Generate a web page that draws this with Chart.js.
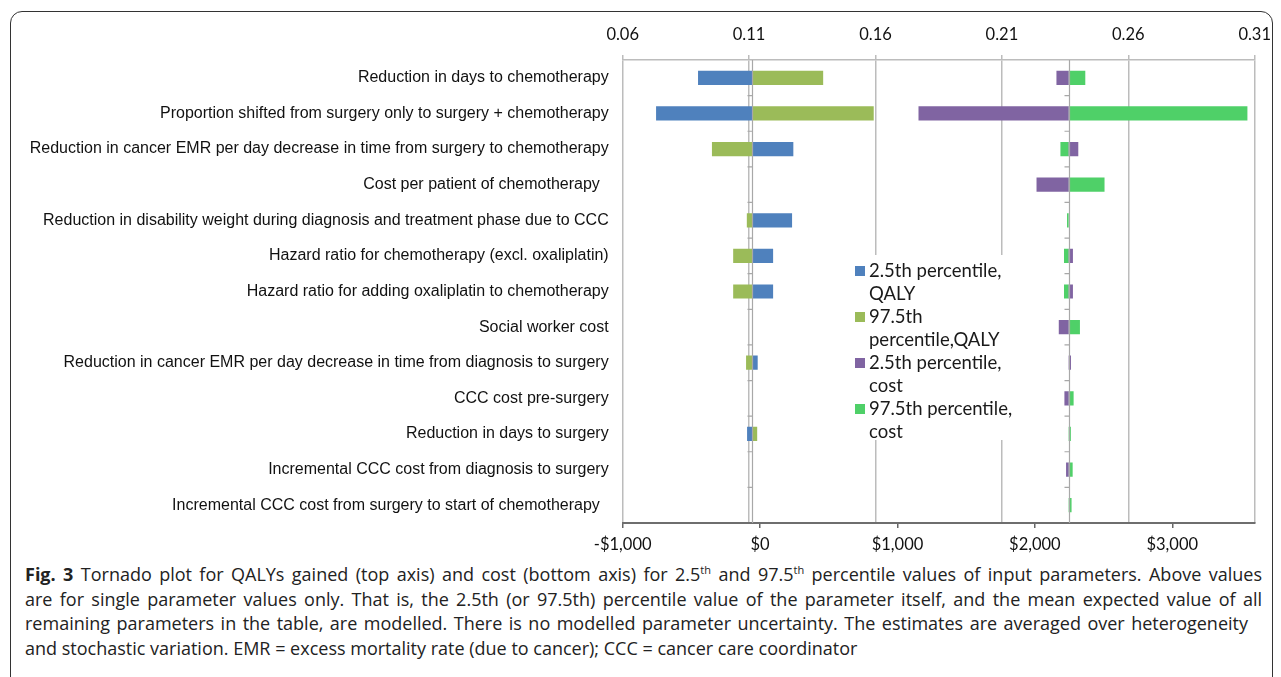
<!DOCTYPE html>
<html><head><meta charset="utf-8">
<script src="https://cdn.jsdelivr.net/npm/chart.js@4.4.1/dist/chart.umd.min.js"></script>
<style>
html,body{margin:0;padding:0;background:#fff;width:1281px;height:677px;overflow:hidden;}
#frame{position:absolute;left:10px;top:11px;width:1261px;height:720px;border:1.5px solid #333;border-radius:12px;}
#wrap{position:absolute;left:0;top:0;width:1281px;height:560px;}
#cap{position:absolute;left:25px;top:562px;font-family:'Open Sans',sans-serif;font-size:18px;line-height:24.5px;color:#222;}
#cap div{white-space:nowrap;text-align:justify;text-align-last:justify;}
#cap div.last{text-align:left;text-align-last:left;}
#cap sup{font-size:11px;line-height:0;vertical-align:7px;}
</style></head>
<body>
<div id="frame"></div>
<div id="wrap"><canvas id="c"></canvas></div>
<div id="cap">
<div style="width:1237px"><b>Fig. 3</b> Tornado plot for QALYs gained (top axis) and cost (bottom axis) for 2.5<sup>th</sup> and 97.5<sup>th</sup> percentile values of input parameters. Above values</div>
<div style="width:1237px">are for single parameter values only. That is, the 2.5th (or 97.5th) percentile value of the parameter itself, and the mean expected value of all</div>
<div style="width:1223px">remaining parameters in the table, are modelled. There is no modelled parameter uncertainty. The estimates are averaged over heterogeneity</div>
<div class="last">and stochastic variation. EMR = excess mortality rate (due to cancer); CCC = cancer care coordinator</div>
</div>
<script>
const categories = [
  "Reduction in days to chemotherapy",
  "Proportion shifted from surgery only to surgery + chemotherapy",
  "Reduction in cancer EMR per day decrease in time from surgery to chemotherapy",
  "Cost per patient of chemotherapy  ",
  "Reduction in disability weight during diagnosis and treatment phase due to CCC",
  "Hazard ratio for chemotherapy (excl. oxaliplatin)",
  "Hazard ratio for adding oxaliplatin to chemotherapy",
  "Social worker cost",
  "Reduction in cancer EMR per day decrease in time from diagnosis to surgery",
  "CCC cost pre-surgery",
  "Reduction in days to surgery",
  "Incremental CCC cost from diagnosis to surgery",
  "Incremental CCC cost from surgery to start of chemotherapy  "
];
const qalyBase = 0.1112;
const qalyP025 = [0.0898, 0.0732, 0.1275, 0.1112, 0.1270, 0.1195, 0.1195, 0.1112, 0.1134, 0.1112, 0.1092, 0.1112, 0.1112];
const qalyP975 = [0.1393, 0.1593, 0.0953, 0.1112, 0.1091, 0.1037, 0.1037, 0.1112, 0.1088, 0.1112, 0.1132, 0.1112, 0.1112];
const costBase = 2246;
const costP025 = [2157, 1153, 2316, 2012, 2246, 2277, 2277, 2174, 2263, 2215, 2246, 2227, 2246];
const costP975 = [2367, 3547, 2186, 2507, 2234, 2212, 2212, 2328, 2246, 2282, 2262, 2275, 2267];
const qalyTicks = [0.06, 0.11, 0.16, 0.21, 0.26, 0.31];
const costTicks = [-1000, 0, 1000, 2000, 3000];
const seriesNames = ["2.5th percentile, QALY", "97.5th percentile,QALY", "2.5th percentile, cost", "97.5th percentile, cost"];
const legendLines = [["2.5th percentile,", "QALY"], ["97.5th", "percentile,QALY"], ["2.5th percentile,", "cost"], ["97.5th percentile,", "cost"]];
const colors = ["#4f81bd", "#9bbb59", "#8064a2", "#4fd068"];

function floating(base, vals) { return vals.map(v => [base, v]); }

const baseLines = {
  id: 'baseLines',
  afterDatasetsDraw(chart) {
    const {ctx, chartArea: a, scales} = chart;
    const n = categories.length;
    const step = (a.bottom - a.top) / n;
    [[scales.xq, qalyBase], [scales.xc, costBase]].forEach(([s, b]) => {
      const x = Math.round(s.getPixelForValue(b)) + 0.5;
      ctx.save();
      ctx.strokeStyle = '#a8a8a8';
      ctx.lineWidth = 1.2;
      ctx.beginPath();
      ctx.moveTo(x, a.top); ctx.lineTo(x, a.bottom);
      for (let i = 1; i < n; i++) {
        const y = a.top + i * step;
        ctx.moveTo(x - 5, y); ctx.lineTo(x, y);
      }
      ctx.stroke();
      ctx.restore();
    });
  }
};

const legendBox = {
  id: 'legendBox',
  afterDraw(chart) {
    const {ctx} = chart;
    const box = {x: 845, y: 255, w: 168, h: 185};
    ctx.save();
    ctx.fillStyle = '#fff';
    ctx.fillRect(box.x, box.y, box.w, box.h);
    ctx.font = '18.5px Lato';
    ctx.textBaseline = 'middle';
    let y = 271;
    legendLines.forEach((lines, i) => {
      ctx.fillStyle = colors[i];
      ctx.fillRect(855, y - 5, 10, 10);
      ctx.fillStyle = '#1a1a1a';
      lines.forEach((t, j) => { ctx.fillText(t, 869, y + j * 23); });
      y += 46;
    });
    ctx.restore();
  }
};

const dsCommon = {grouped: false, barPercentage: 0.4, categoryPercentage: 1, borderWidth: 0};
new Chart(document.getElementById('c'), {
  type: 'bar',
  data: {
    labels: categories,
    datasets: [
      {label: seriesNames[0], data: floating(qalyBase, qalyP025), xAxisID: 'xq', backgroundColor: colors[0], ...dsCommon},
      {label: seriesNames[1], data: floating(qalyBase, qalyP975), xAxisID: 'xq', backgroundColor: colors[1], ...dsCommon},
      {label: seriesNames[2], data: floating(costBase, costP025), xAxisID: 'xc', backgroundColor: colors[2], ...dsCommon},
      {label: seriesNames[3], data: floating(costBase, costP975), xAxisID: 'xc', backgroundColor: colors[3], ...dsCommon}
    ]
  },
  options: {
    indexAxis: 'y',
    responsive: true,
    maintainAspectRatio: false,
    animation: false,
    layout: {padding: {left: 0, right: 23.5, top: 0, bottom: 0}},
    plugins: {legend: {display: false}, tooltip: {enabled: false}},
    scales: {
      y: {
        type: 'category',
        grid: {display: false, drawTicks: false},
        border: {display: false},
        ticks: {padding: 14, color: '#111', font: {family: 'Liberation Sans', size: 16}},
        afterFit(s) { s.width = 622.7; }
      },
      xq: {
        type: 'linear', position: 'top', min: 0.06, max: 0.31,
        afterBuildTicks(s) { s.ticks = qalyTicks.map(v => ({value: v})); },
        afterFit(s) { s.height = 60; },
        grid: {color: '#bcbcbc', lineWidth: 1.5, tickLength: 5},
        border: {color: '#bcbcbc', width: 1.5},
        ticks: {padding: 10, color: '#111', font: {family: 'Lato', size: 16.5}, maxRotation: 0,
          callback: v => Number(v).toFixed(2)}
      },
      xc: {
        type: 'linear', position: 'bottom', min: -1000, max: 3600,
        afterBuildTicks(s) { s.ticks = costTicks.map(v => ({value: v})); },
        afterFit(s) { s.height = 37; },
        grid: {drawOnChartArea: false, color: '#666', lineWidth: 1.5, tickLength: 5},
        border: {color: '#6e6e6e', width: 2},
        ticks: {padding: 7, color: '#111', font: {family: 'Lato', size: 16.5}, maxRotation: 0,
          callback: v => (v < 0 ? '-$' : '$') + Math.abs(v).toLocaleString('en-US')}
      }
    }
  },
  plugins: [baseLines, legendBox]
});
</script>
</body></html>
